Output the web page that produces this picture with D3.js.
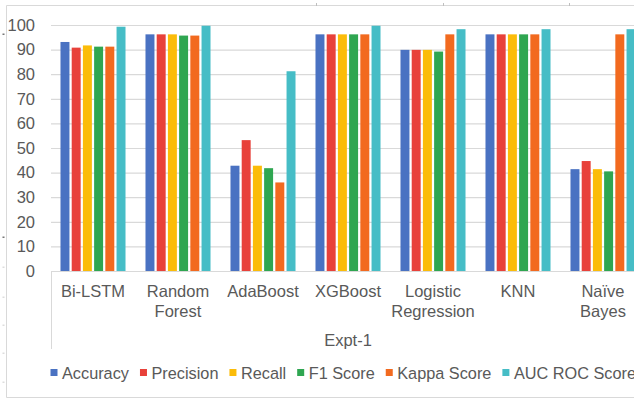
<!DOCTYPE html>
<html>
<head>
<meta charset="utf-8">
<script src="https://cdn.jsdelivr.net/npm/d3@7"></script>
<style>
  html, body { margin: 0; padding: 0; background: #fff; }
  svg { display: block; }
  text { font-family: "Liberation Sans", Arial, sans-serif; fill: #595959; }
</style>
</head>
<body>
<svg id="chart" width="634" height="399"></svg>
<script>
// Model names on the category axis (multi-line labels split on "\n")
const categories = ["Bi-LSTM", "Random\nForest", "AdaBoost", "XGBoost", "Logistic\nRegression", "KNN", "Naïve\nBayes"];

// One series per evaluation metric
const seriesNames = ["Accuracy", "Precision", "Recall", "F1 Score", "Kappa Score", "AUC ROC Score"];
const seriesColors = ["#4a72c2", "#e8413a", "#fbbc09", "#2fa651", "#f26a1f", "#46bdc6"];

const accuracy  = [93.1, 96.2, 42.8, 96.2, 89.9, 96.2, 41.4];
const precision = [90.8, 96.2, 53.2, 96.2, 89.9, 96.2, 44.7];
const recall    = [91.7, 96.2, 42.8, 96.2, 89.9, 96.2, 41.4];
const f1Score   = [91.2, 95.7, 41.8, 96.2, 89.2, 96.2, 40.5];
const kappa     = [91.2, 95.7, 36.0, 96.2, 96.2, 96.2, 96.2];
const aucRoc    = [99.3, 99.7, 81.2, 99.7, 98.3, 98.3, 98.3];

const seriesValues = [accuracy, precision, recall, f1Score, kappa, aucRoc];

const yTicks = [0, 10, 20, 30, 40, 50, 60, 70, 80, 90, 100];
const axisTitle = "Expt-1";

const svg = d3.select("#chart");
const W = 634, H = 399;

// Outer chart frame
const frame = svg.append("g").attr("stroke", "#d9d9d9").attr("fill", "none");
frame.append("line").attr("x1", 6.5).attr("x2", W).attr("y1", 5.5).attr("y2", 5.5);
frame.append("line").attr("x1", 6.5).attr("x2", 6.5).attr("y1", 5.5).attr("y2", 397.5);
frame.append("line").attr("x1", 6.5).attr("x2", W).attr("y1", 397.5).attr("y2", 397.5);
// small marks along the frame edges
[316, 443, 569].forEach(x => frame.append("line")
  .attr("x1", x + 0.5).attr("x2", x + 0.5).attr("y1", 3).attr("y2", 6).attr("stroke", "#bfbfbf"));
[[34, "#777"], [237, "#777"], [267, "#ddd"], [297, "#ddd"], [325, "#ddd"], [353, "#ddd"], [382, "#ddd"]]
  .forEach(([y, c]) => svg.append("rect").attr("x", 2.5).attr("y", y - 0.5)
    .attr("width", 2).attr("height", 1.5).attr("fill", c));

// Scales
const x0 = d3.scaleBand().domain(categories).range([50.5, 645.5])
  .paddingInner(0.235).paddingOuter(0.1175);
const x1 = d3.scaleBand().domain(seriesNames).range([0, x0.bandwidth()])
  .paddingInner(0.2).paddingOuter(0);
const y = d3.scaleLinear().domain([0, 100]).range([271, 25]);

// Gridlines + value axis labels
const yAxis = d3.axisLeft(y).tickValues(yTicks).tickSize(-(W - 51)).tickPadding(16);
const gy = svg.append("g").attr("transform", "translate(51,0)").call(yAxis);
gy.select(".domain").remove();
gy.selectAll(".tick line").attr("stroke", "#d9d9d9").attr("stroke-width", 1.2);
gy.selectAll(".tick text").attr("font-size", 16.5).attr("fill", "#595959")
  .attr("font-family", "Liberation Sans, Arial, sans-serif");

// Bars
const groups = svg.append("g").selectAll("g")
  .data(categories)
  .join("g")
  .attr("transform", d => `translate(${x0(d)},0)`);

groups.selectAll("rect")
  .data((c, ci) => seriesNames.map((s, si) => ({ s, si, v: seriesValues[si][ci] })))
  .join("rect")
  .attr("x", d => x1(d.s))
  .attr("y", d => y(d.v))
  .attr("width", x1.bandwidth())
  .attr("height", d => y(0) - y(d.v))
  .attr("fill", d => seriesColors[d.si]);

// Category axis: left separator line and labels
svg.append("line").attr("x1", 51.5).attr("x2", 51.5).attr("y1", 271).attr("y2", 349)
  .attr("stroke", "#d9d9d9");

const catLabels = svg.append("g").attr("font-size", 16.5).attr("text-anchor", "middle");
categories.forEach(c => {
  const lines = c.split("\n");
  const t = catLabels.append("text")
    .attr("x", x0(c) + x0.bandwidth() / 2)
    .attr("y", 297);
  lines.forEach((ln, i) => t.append("tspan")
    .attr("x", x0(c) + x0.bandwidth() / 2)
    .attr("dy", i === 0 ? 0 : 20)
    .text(ln));
});

svg.append("text").attr("x", (50.5 + 645.5) / 2).attr("y", 346)
  .attr("font-size", 16.5).attr("text-anchor", "middle").text(axisTitle);

// Legend
const legend = svg.append("g").attr("transform", "translate(0,373)");
let lx = 50.5;
seriesNames.forEach((s, i) => {
  legend.append("rect").attr("x", lx).attr("y", -4).attr("width", 7).attr("height", 7)
    .attr("fill", seriesColors[i]);
  const t = legend.append("text").attr("x", lx + 11.5).attr("y", 6)
    .attr("font-size", 16.3).text(s);
  lx += 11.5 + t.node().getComputedTextLength() + 11;
});
</script>
</body>
</html>
